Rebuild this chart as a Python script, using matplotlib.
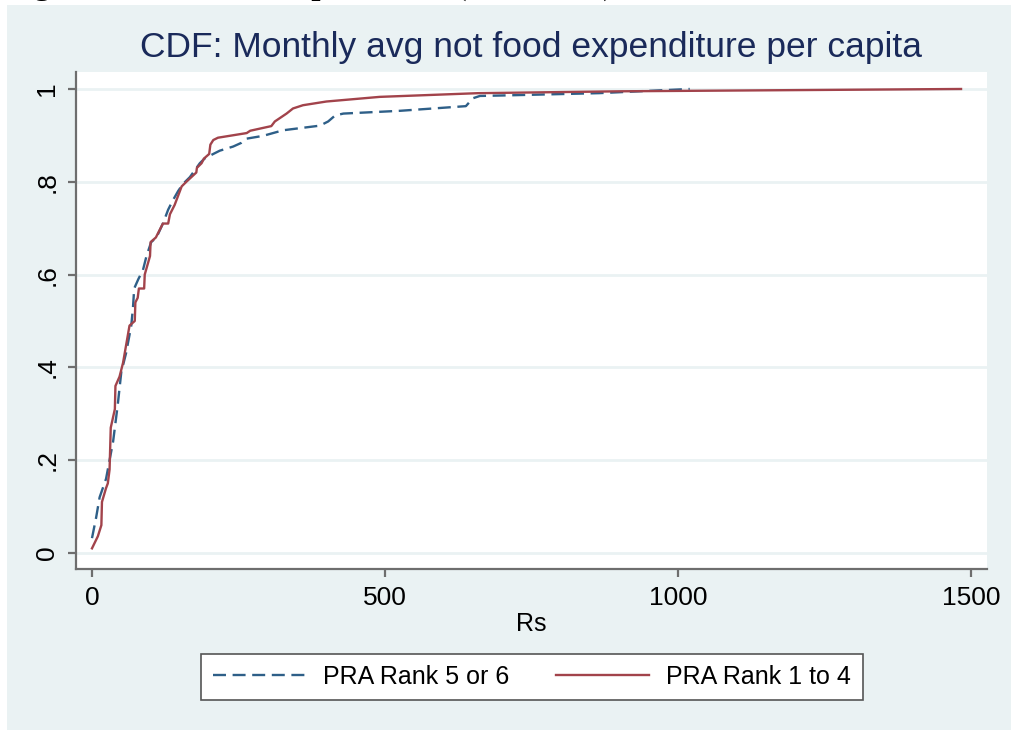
import numpy as np
import matplotlib.pyplot as plt
from matplotlib.patches import Rectangle

# CDF points (Rs, cumulative share)
rank56_x = [0, 7, 13, 24, 30, 36, 44, 50, 58, 67, 70, 72, 79, 87, 93, 101, 110, 121,
            124, 130, 138, 147, 155, 167, 184, 192, 207, 218, 241, 255, 264, 292, 326,
            389, 403, 415, 429, 526, 638, 650, 662, 700, 865, 1020]
rank56_y = [0.032, 0.076, 0.12, 0.16, 0.20, 0.24, 0.32, 0.39, 0.43, 0.49, 0.53, 0.57,
            0.59, 0.61, 0.64, 0.67, 0.68, 0.71, 0.72, 0.74, 0.76, 0.78, 0.795, 0.81,
            0.84, 0.85, 0.86, 0.867, 0.876, 0.884, 0.893, 0.899, 0.911, 0.921, 0.93,
            0.943, 0.947, 0.953, 0.963, 0.98, 0.985, 0.986, 0.991, 1.0]

rank14_x = [0, 10, 16, 17, 24, 27, 30, 32, 39, 40, 47, 53, 64, 73, 74, 78, 80, 89, 90,
            99, 100, 109, 121, 130, 133, 141, 147, 153, 161, 178, 179, 187, 191, 200,
            202, 207, 215, 264, 270, 306, 312, 332, 343, 360, 400, 491, 659, 900, 1483]
rank14_y = [0.01, 0.036, 0.06, 0.11, 0.14, 0.15, 0.18, 0.27, 0.31, 0.36, 0.38, 0.41,
            0.49, 0.50, 0.54, 0.55, 0.57, 0.57, 0.60, 0.64, 0.67, 0.68, 0.71, 0.71, 0.73,
            0.75, 0.77, 0.79, 0.80, 0.82, 0.83, 0.84, 0.85, 0.86, 0.88, 0.89, 0.895,
            0.905, 0.91, 0.92, 0.93, 0.947, 0.958, 0.965, 0.973, 0.983, 0.991, 0.995, 1.0]

xticks = [0, 500, 1000, 1500]
yticks = [0, 0.2, 0.4, 0.6, 0.8, 1.0]
ytick_labels = ["0", ".2", ".4", ".6", ".8", "1"]

bg = "#EAF2F3"
blue = "#2E5F88"
red = "#A2434B"

plt.rcParams["font.family"] = ["Liberation Sans", "DejaVu Sans"]

fig = plt.figure(figsize=(10.11, 7.3), dpi=100)
fig.patch.set_facecolor("white")
fig.add_artist(Rectangle((7 / 1011, 0), 1 - 7 / 1011, 1 - 5 / 730,
                         transform=fig.transFigure, facecolor=bg, edgecolor="none", zorder=-10))

# cut-off caption from the source document (only descenders show)
fig.text(5 / 1011, 1 + 6 / 730, "Figure 8: Non-food expenditure (Rs/month)",
         family="Liberation Serif", weight="bold", fontsize=23.6, va="baseline", ha="left")

ax = fig.add_axes([76 / 1011, 1 - 569 / 730, (987 - 76) / 1011, (569 - 72) / 730])
ax.set_facecolor("white")

ax.plot(rank56_x, rank56_y, color=blue, lw=1.7, linestyle=(0, (5.5, 2.8)), label="PRA Rank 5 or 6")
ax.plot(rank14_x, rank14_y, color=red, lw=1.7, label="PRA Rank 1 to 4")

ax.set_xlim(-27.3, 1527.3)
ax.set_ylim(-0.0345, 1.0366)
ax.set_xticks(xticks)
ax.set_yticks(yticks)
ax.set_yticklabels(ytick_labels, rotation=90, va="center")
for y in yticks:
    ax.axhline(y, color=bg, lw=2, zorder=0)

for s in ["top", "right"]:
    ax.spines[s].set_visible(False)
for s in ["left", "bottom"]:
    ax.spines[s].set_color("#6E6E6E")
    ax.spines[s].set_linewidth(1.6)
ax.tick_params(colors="#6E6E6E", labelcolor="black", length=6, width=1.6, labelsize=19, pad=6)

ax.set_xlabel("Rs", fontsize=18, labelpad=2)
fig.text(531 / 1011, 1 - 47 / 730, "CDF: Monthly avg not food expenditure per capita",
         color="#1A2A5A", fontsize=25.5, ha="center", va="center")

leg = fig.legend(loc="center", bbox_to_anchor=(532 / 1011, 1 - 677 / 730), ncol=2,
                 fontsize=18, frameon=True, fancybox=False, framealpha=1, handlelength=3.7,
                 handletextpad=0.7, columnspacing=1.9, borderpad=0.45)
leg.get_frame().set_edgecolor("#555555")
leg.get_frame().set_linewidth(1.2)

fig.savefig("out.png", dpi=100)
